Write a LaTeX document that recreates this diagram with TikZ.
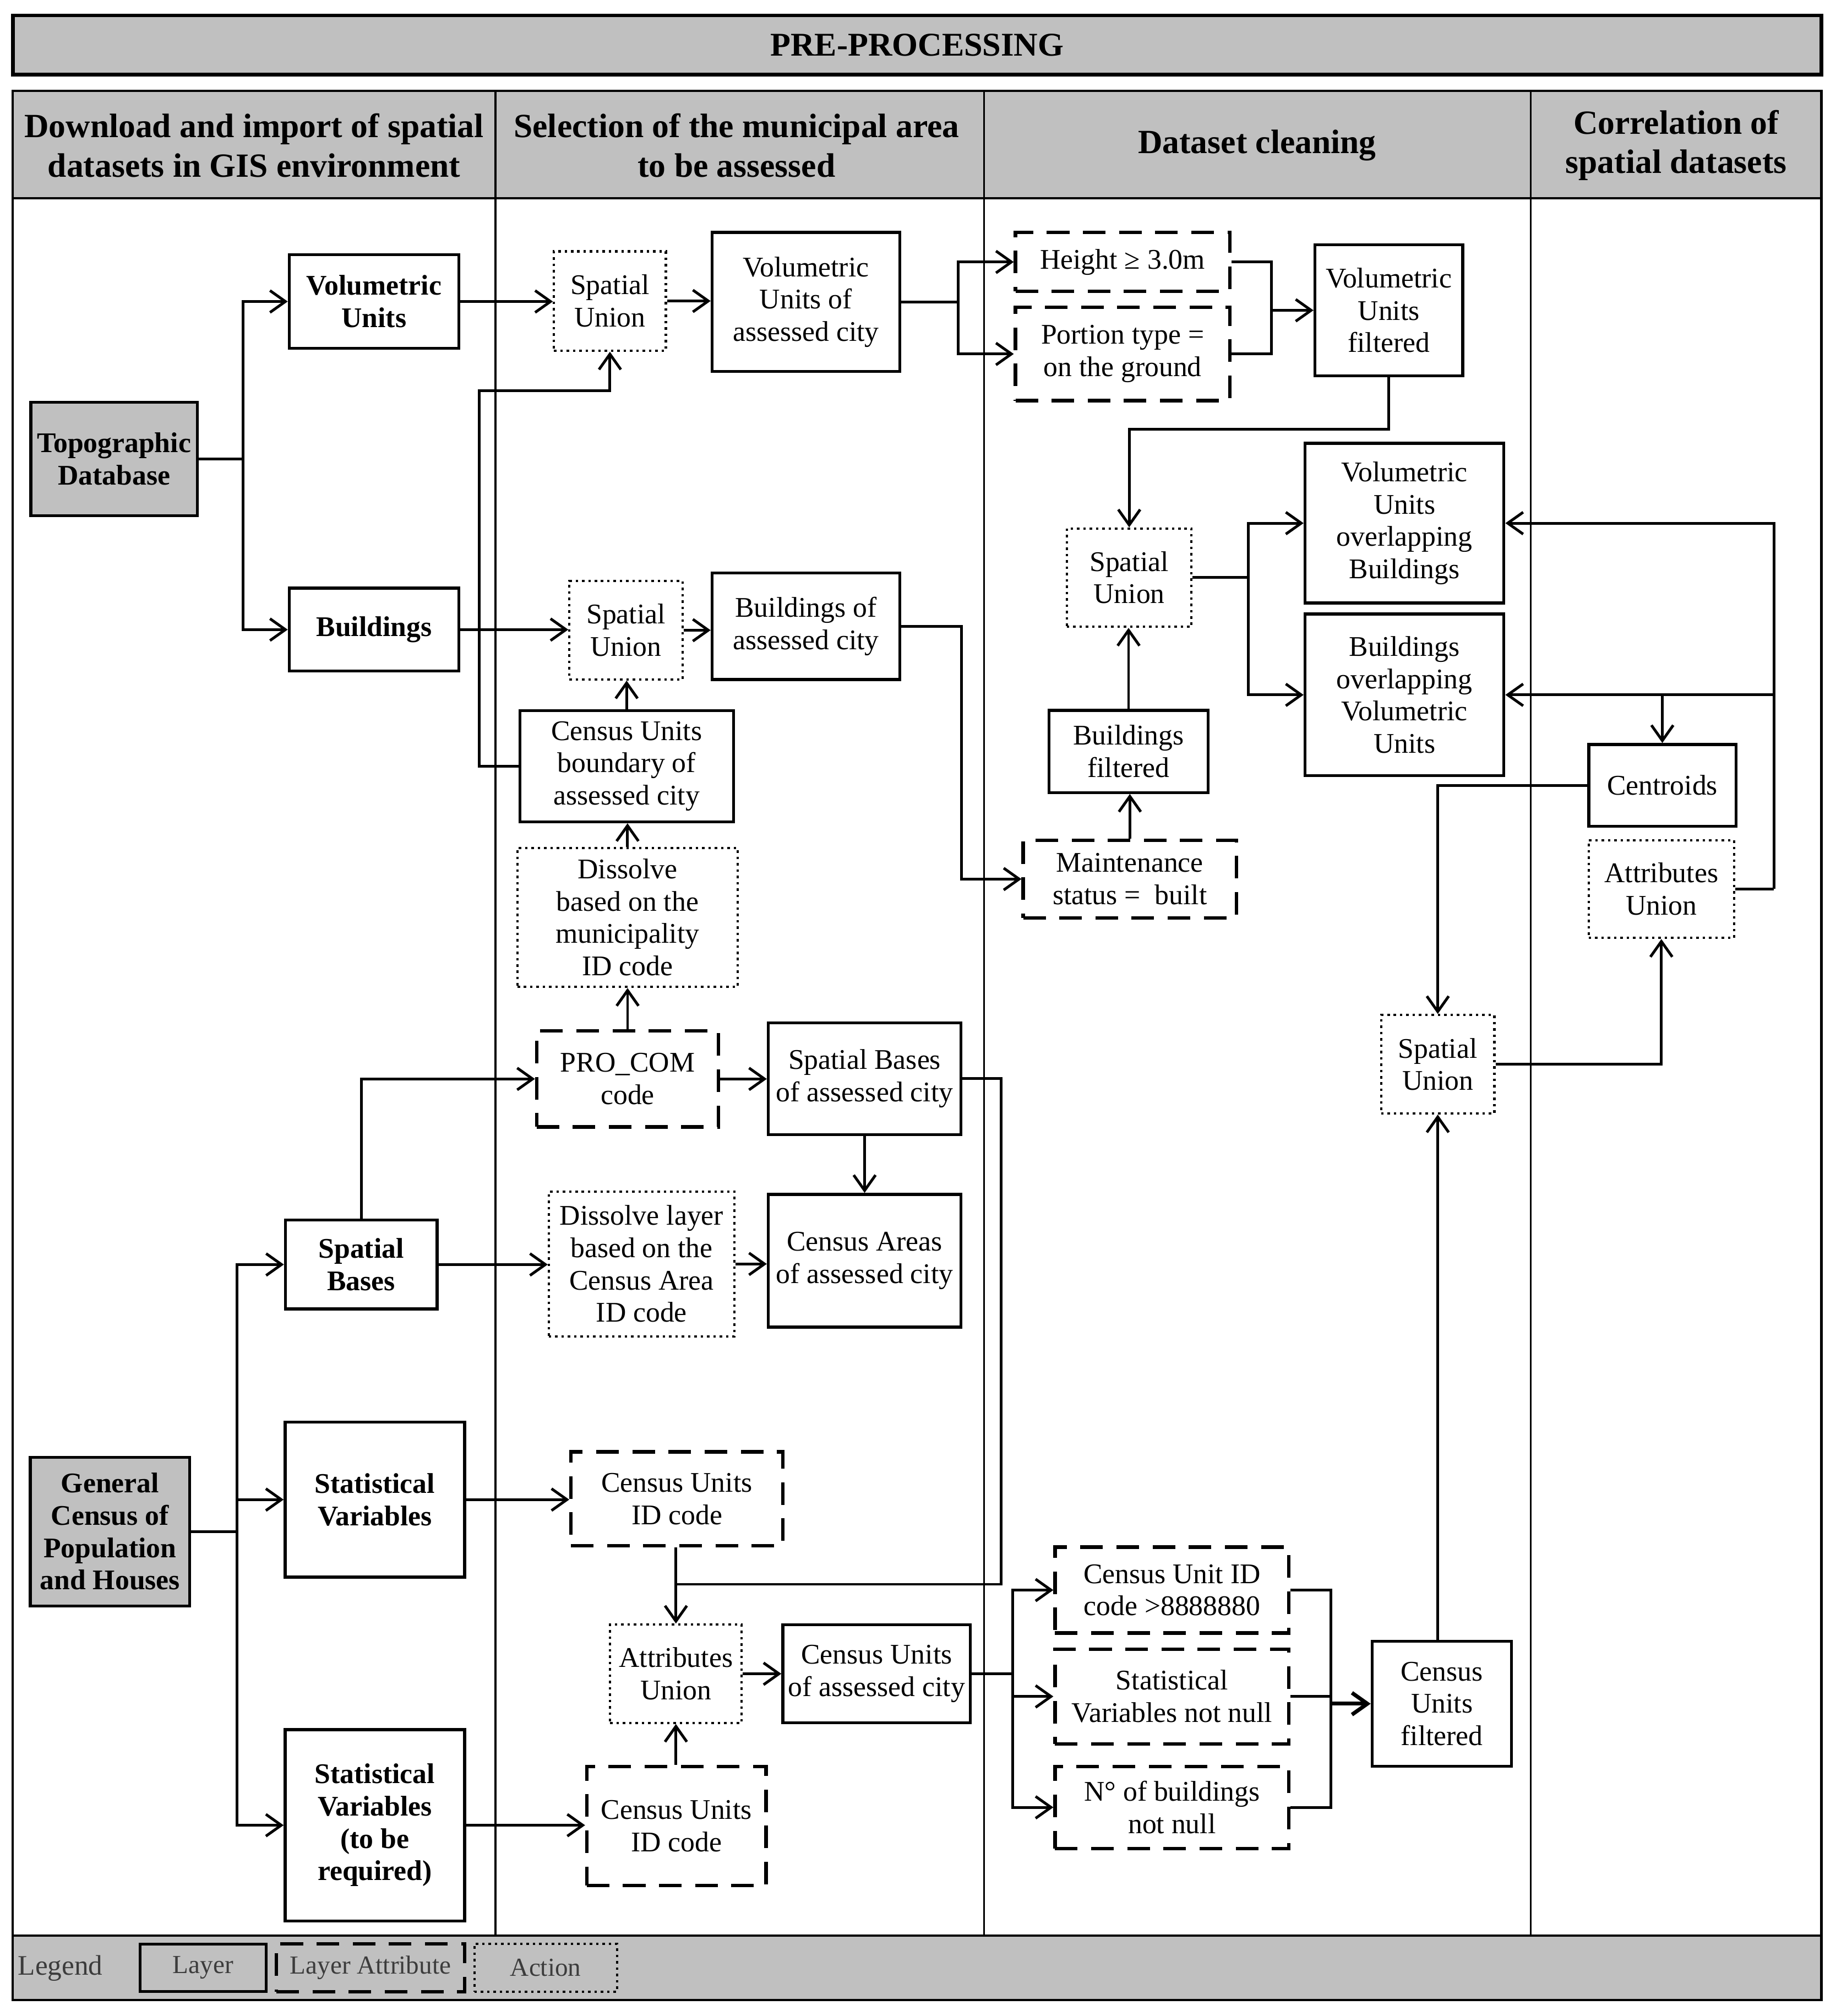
\documentclass[tikz,border=0pt]{standalone}
\usepackage{fontspec}
\setmainfont{Liberation Serif}
\usetikzlibrary{arrows.meta}
\definecolor{gr}{RGB}{192,192,192}
\definecolor{legtext}{RGB}{60,60,60}
\newcommand\nfont{\fontsize{12.6}{14.3}\selectfont}
\newcommand\bfont{\fontsize{12.6}{14.3}\selectfont\bfseries}
\newcommand\nb[7]{\node[#1, minimum width={(#4-#2)*0.02cm}, minimum height={(#5-#3)*0.02cm}] (#6) at ({(#2+#4)/2},{(#3+#5)/2}) {#7};}
\begin{document}
\begin{tikzpicture}[x=0.02cm,y=-0.02cm,
  base/.style={draw, line width=1.3pt, align=center, inner sep=1pt, font=\nfont},
  boxL/.style={base},
  boxLB/.style={base, font=\bfont},
  boxG/.style={base, fill=gr, font=\bfont},
  boxA/.style={base, line width=1.5pt, dash pattern=on 10pt off 6pt},
  boxX/.style={base, line width=1pt, dash pattern=on 1.1pt off 1.7pt},
  titlebox/.style={draw, line width=1.6pt, fill=gr, font=\fontsize{14.7}{17}\selectfont\bfseries},
  hdr/.style={align=center, inner sep=0pt, font=\fontsize{15}{17.5}\selectfont\bfseries},
  ln/.style={line width=1.2pt},
  arr/.style={ln, -{Straight Barb[length=2.4mm,width=3.4mm]}},
  tbl/.style={line width=1pt},
  col/.style={line width=0.8pt},
  legfont/.style={font=\fontsize{11.5}{13}\selectfont, text=legtext}
]
\useasboundingbox (0,0) rectangle (1428,1568);
% title
\nb{titlebox}{10}{12}{1417}{58}{title}{PRE-PROCESSING}
% table
\fill[gr] (10,70.7) rectangle (1417,154.3);
\fill[gr] (10,1505.5) rectangle (1417,1555.4);
\draw[tbl] (10,70.7) rectangle (1417,1555.4);
\draw[tbl] (10,154.3) -- (1417,154.3);
\draw[tbl] (10,1505.5) -- (1417,1505.5);
\draw[col] (385.5,70.7) -- (385.5,1505.5);
\draw[col] (765.5,70.7) -- (765.5,1505.5);
\draw[col] (1191,70.7) -- (1191,1505.5);
\node[hdr] (h1) at (197.7,113) {Download and import of spatial\\datasets in GIS environment};
\node[hdr] (h2) at (573,113) {Selection of the municipal area\\to be assessed};
\node[hdr] (h3) at (978,113) {Dataset cleaning};
\node[hdr] (h4) at (1304,113) {Correlation of\\spatial datasets};
% column 1
\nb{boxG}{24}{313}{153.5}{401}{topo}{Topographic\\Database}
\nb{boxLB}{225}{198}{357}{271}{vu}{Volumetric\\Units}
\nb{boxLB}{225}{457.4}{357}{522}{bld}{Buildings}
\nb{boxG}{23.6}{1133.4}{147.6}{1249}{gc}{General\\Census of\\Population\\and Houses}
\nb{boxLB}{222}{949}{340}{1018}{sb}{Spatial\\Bases}
\nb{boxLB}{221.8}{1106}{361.5}{1226.7}{sv}{Statistical\\Variables}
\nb{boxLB}{221.8}{1345.2}{361.5}{1494}{svr}{Statistical\\Variables\\(to be\\required)}
% column 2
\nb{boxX}{431}{195.5}{518}{272.7}{su1}{Spatial\\Union}
\nb{boxL}{554}{180.8}{700}{289}{vuc}{Volumetric\\Units of\\assessed city}
\nb{boxX}{443}{451.8}{531}{528.5}{su2}{Spatial\\Union}
\nb{boxL}{554}{445.6}{700}{528.5}{bc}{Buildings of\\assessed city}
\nb{boxL}{404.4}{552.6}{570.6}{639.2}{cub}{Census Units\\boundary of\\assessed city}
\nb{boxX}{402.6}{659.4}{573.8}{767.6}{dis1}{Dissolve\\based on the\\municipality\\ID code}
\nb{boxA}{417.5}{801.8}{559}{876.5}{pro}{PRO\_COM\\code}
\nb{boxL}{597.7}{795.5}{747.6}{882.4}{sbc}{Spatial Bases\\of assessed city}
\nb{boxX}{427}{926.7}{571.3}{1039.4}{dis2}{Dissolve layer\\based on the\\Census Area\\ID code}
\nb{boxL}{597.7}{928.9}{747.6}{1032.2}{ca}{Census Areas\\of assessed city}
\nb{boxA}{444.2}{1129.2}{609}{1202.3}{cu1}{Census Units\\ID code}
\nb{boxX}{474.7}{1263.6}{577}{1340}{au}{Attributes\\Union}
\nb{boxL}{609}{1263.6}{755}{1340}{cuc}{Census Units\\of assessed city}
\nb{boxA}{456.5}{1373.8}{596}{1466.6}{cu2}{Census Units\\ID code}
% column 3
\nb{boxA}{790}{180.8}{956.7}{226.7}{ht}{Height ≥ 3.0m}
\nb{boxA}{790}{239}{956.7}{311.6}{pt}{Portion type =\\on the ground}
\nb{boxL}{1023}{190.3}{1138}{292.4}{vuf}{Volumetric\\Units\\filtered}
\nb{boxX}{830}{411}{927}{487.5}{su3}{Spatial\\Union}
\nb{boxL}{1015.3}{344.8}{1170}{469}{vuob}{Volumetric\\Units\\overlapping\\Buildings}
\nb{boxL}{1015.3}{477.6}{1170}{603.3}{bovu}{Buildings\\overlapping\\Volumetric\\Units}
\nb{boxL}{816}{552.5}{940}{616.4}{bf}{Buildings\\filtered}
\nb{boxA}{796}{653.4}{962}{714}{mt}{Maintenance\\status =~ built}
\nb{boxA}{820.8}{1203.3}{1002.8}{1270.1}{cid}{Census Unit ID\\code >8888880}
\nb{boxA}{820.8}{1282.6}{1002.8}{1356.3}{svn}{Statistical\\Variables not null}
\nb{boxA}{820.8}{1373.8}{1002.8}{1437.6}{nbn}{N° of buildings\\not null}
\nb{boxL}{1067.5}{1276.4}{1176}{1373.8}{cuf}{Census\\Units\\filtered}
\nb{boxX}{1074.5}{789.5}{1162.6}{866}{su4}{Spatial\\Union}
% column 4
\nb{boxL}{1236}{579}{1350.5}{642.7}{cen}{Centroids}
\nb{boxX}{1236}{653.4}{1349}{729.5}{au2}{Attributes\\Union}
% legend
\node[font=\fontsize{12.5}{14}\selectfont, text=legtext, inner sep=0pt] (leg) at (47,1531) {Legend};
\nb{boxL, legfont}{109}{1512}{207}{1549}{lg1}{Layer}
\nb{boxA, legfont}{215}{1512}{361.5}{1549}{lg2}{Layer Attribute}
\nb{boxX, legfont}{369}{1512}{480}{1549}{lg3}{Action}
% junctions
\coordinate (jT) at (189,357);
\coordinate (jB) at (373,303.7);
\coordinate (jG) at (184.5,1191);
\coordinate (jS) at (778.7,1232.2);
\coordinate (jH) at (745.3,235);
\coordinate (jH2) at (989,241);
\coordinate (jV) at (1080,333.7);
\coordinate (jM) at (748.2,487);
\coordinate (jF) at (971,449);
\coordinate (jD) at (787.7,1302);
\coordinate (jC) at (1035.4,1325);
\coordinate (jR) at (1380,690);
% connectors column 1/2
\draw[ln] (topo.east) -- (topo.east -| jT);
\draw[arr] (topo.east -| jT) |- (vu.west);
\draw[arr] (topo.east -| jT) |- (bld.west);
\draw[arr] (vu.east) -- (vu.east -| su1.west);
\draw[arr] (su1.east) -- (su1.east -| vuc.west);
\draw[arr] (cub.west) -- (cub.west -| jB) |- (jB -| su1.south) -- (su1.south);
\draw[arr] (bld.east) -- (bld.east -| su2.west);
\draw[arr] (su2.east) -- (su2.east -| bc.west);
\draw[arr] (cub.north) -- (cub.north |- su2.south);
\draw[arr] (dis1.north) -- (dis1.north |- cub.south);
\draw[arr] (pro.north) -- (pro.north |- dis1.south);
\draw[arr] (sb.north) |- (pro.west);
\draw[arr] (pro.east) -- (pro.east -| sbc.west);
\draw[arr] (sbc.south) -- (sbc.south |- ca.north);
\draw[arr] (sb.east) -- (sb.east -| dis2.west);
\draw[arr] (dis2.east) -- (dis2.east -| ca.west);
\draw[ln] (gc.east) -- (gc.east -| jG);
\draw[arr] (gc.east -| jG) |- (sb.west);
\draw[arr] (gc.east -| jG) |- (sv.west);
\draw[arr] (gc.east -| jG) |- (svr.west);
\draw[arr] (sv.east) -- (sv.east -| cu1.west);
\draw[arr] (svr.east) -- (svr.east -| cu2.west);
\draw[arr] (au.north |- cu1.south) -- (au.north);
\draw[arr] (au.south |- cu2.north) -- (au.south);
\draw[ln] (sbc.east) -- (sbc.east -| jS) -- (jS) -- (jS -| au.north);
\draw[arr] (au.east) -- (au.east -| cuc.west);
% column 3
\draw[ln] (vuc.east) -- (vuc.east -| jH);
\draw[arr] (vuc.east -| jH) |- (ht.west);
\draw[arr] (vuc.east -| jH) |- (pt.west);
\draw[ln] (ht.east) -- (ht.east -| jH2) -- (pt.east -| jH2) -- (pt.east);
\draw[arr] (vuf.west -| jH2) -- (vuf.west);
\draw[arr] (vuf.south) -- (vuf.south |- jV) -| (su3.north);
\draw[arr] (bc.east) -- (bc.east -| jM) |- (mt.west);
\draw[arr] (mt.north) -- (mt.north |- bf.south);
\draw[arr] (bf.north) -- (bf.north |- su3.south);
\draw[ln] (su3.east) -- (su3.east -| jF);
\draw[arr] (su3.east -| jF) |- (vuob.west);
\draw[arr] (su3.east -| jF) |- (bovu.west);
\draw[ln] (cuc.east) -- (cuc.east -| jD);
\draw[arr] (cuc.east -| jD) |- (cid.west);
\draw[arr] (cuc.east -| jD) |- (svn.west);
\draw[arr] (cuc.east -| jD) |- (nbn.west);
\draw[ln] (cid.east) -- (cid.east -| jC) -- (nbn.east -| jC) -- (nbn.east);
\draw[ln] (svn.east) -- (svn.east -| jC);
\draw[arr, line width=1.7pt] (cuf.west -| jC) -- (cuf.west);
\draw[arr] (su4.south |- cuf.north) -- (su4.south);
% column 4
\draw[arr] (cen.west) -| (su4.north);
\draw[arr] (su4.east) -| (au2.south);
\draw[ln] (au2.east) -- (au2.east -| jR);
\draw[arr] (au2.east -| jR) |- (vuob.east);
\draw[arr] (au2.east -| jR) |- (bovu.east);
\draw[arr] (cen.north |- bovu.east) -- (cen.north);
\end{tikzpicture}
\end{document}
